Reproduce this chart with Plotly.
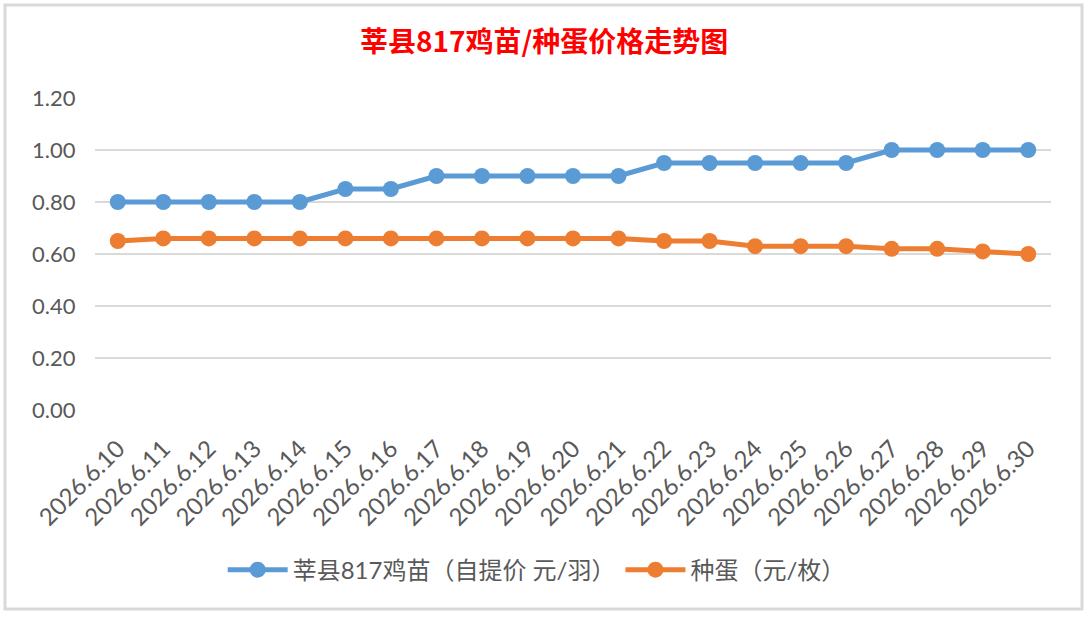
import plotly.graph_objects as go

# 日期（横轴）
dates = ["2026.6.10", "2026.6.11", "2026.6.12", "2026.6.13", "2026.6.14",
         "2026.6.15", "2026.6.16", "2026.6.17", "2026.6.18", "2026.6.19",
         "2026.6.20", "2026.6.21", "2026.6.22", "2026.6.23", "2026.6.24",
         "2026.6.25", "2026.6.26", "2026.6.27", "2026.6.28", "2026.6.29",
         "2026.6.30"]

# 鸡苗价格（元/羽）
chick_price = [0.80, 0.80, 0.80, 0.80, 0.80, 0.85, 0.85, 0.90, 0.90, 0.90,
               0.90, 0.90, 0.95, 0.95, 0.95, 0.95, 0.95, 1.00, 1.00, 1.00,
               1.00]

# 种蛋价格（元/枚）
egg_price = [0.65, 0.66, 0.66, 0.66, 0.66, 0.66, 0.66, 0.66, 0.66, 0.66,
             0.66, 0.66, 0.65, 0.65, 0.63, 0.63, 0.63, 0.62, 0.62, 0.61,
             0.60]

y_ticks = [0, 0.2, 0.4, 0.6, 0.8, 1.0, 1.2]

FONT = "Lato, 'Noto Sans CJK SC', sans-serif"
GREY = "#595959"

fig = go.Figure()
fig.add_trace(go.Scatter(
    x=dates, y=chick_price, mode="lines+markers",
    name="莘县817鸡苗（自提价 元/羽）",
    line=dict(color="#5B9BD5", width=5),
    marker=dict(size=16, color="#5B9BD5"),
))
fig.add_trace(go.Scatter(
    x=dates, y=egg_price, mode="lines+markers",
    name="种蛋（元/枚）",
    line=dict(color="#ED7D31", width=5),
    marker=dict(size=16, color="#ED7D31"),
))

fig.update_layout(
    width=1086, height=618,
    margin=dict(l=95, r=35, t=98, b=208),
    paper_bgcolor="white", plot_bgcolor="white",
    font=dict(family=FONT, size=22, color=GREY),
    title=dict(text="<b>莘县817鸡苗/种蛋价格走势图</b>",
               x=0.501, xanchor="center", xref="container", y=0.932, yanchor="middle",
               font=dict(family="'Noto Sans CJK SC', sans-serif", size=28, color="#FF0000")),
    showlegend=True,
    legend=dict(orientation="h", x=0.462, xanchor="center", y=-0.513, yanchor="middle",
                font=dict(family=FONT, size=24, color=GREY), itemwidth=60),
)
fig.update_xaxes(type="category", tickangle=-45, showgrid=False, showline=False,
                 ticks="outside", ticklen=14, tickcolor="white",
                 tickfont=dict(size=24, color=GREY),
                 range=[-0.5, len(dates) - 0.5])
fig.update_yaxes(range=[0, 1.2], tickvals=y_ticks, tickformat=".2f",
                 showgrid=True, gridcolor="#D9D9D9", gridwidth=2, zeroline=False,
                 ticks="outside", ticklen=14, tickcolor="white",
                 tickfont=dict(size=22, color=GREY))

# 外框
fig.add_shape(type="rect", xref="paper", yref="paper",
              x0=(5 - 95) / 956, x1=(1082 - 95) / 956,
              y0=(410 - 609) / 312, y1=(410 - 5) / 312,
              line=dict(color="#D9D9D9", width=3), fillcolor="rgba(0,0,0,0)", layer="below")

fig.write_html("out.html", config={"displayModeBar": False},
               post_script="document.body.style.margin='0';")
